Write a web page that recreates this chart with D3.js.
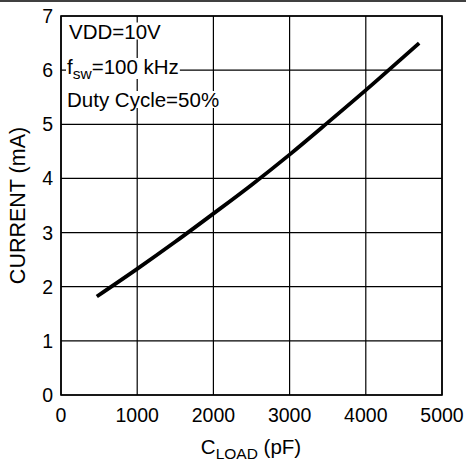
<!DOCTYPE html>
<html><head><meta charset="utf-8">
<script src="https://cdn.jsdelivr.net/npm/d3@7"></script>
<style>body{margin:0;background:#fff;} svg{display:block;font-family:"Liberation Sans",Arial,sans-serif;}</style>
</head><body>
<script>
const cload = [470, 1000, 1500, 2000, 2500, 3000, 3500, 4000, 4500, 4700];
const current = [1.82, 2.33, 2.83, 3.35, 3.88, 4.44, 5.03, 5.63, 6.25, 6.50];
const xTicks = [0, 1000, 2000, 3000, 4000, 5000];
const yTicks = [0, 1, 2, 3, 4, 5, 6, 7];

const W = 466, H = 466;
const svg = d3.select("body").append("svg").attr("width", W).attr("height", H);
const x = d3.scaleLinear().domain([0, 5000]).range([61, 442]);
const y = d3.scaleLinear().domain([0, 7]).range([395, 16]);

svg.append("line").attr("x1", 0).attr("x2", W).attr("y1", 1).attr("y2", 1)
  .attr("stroke", "#000").attr("stroke-width", 1.5);

const g = svg.append("g");
g.selectAll(".vg").data(xTicks).join("line")
  .attr("x1", d => x(d)).attr("x2", d => x(d)).attr("y1", y(0)).attr("y2", y(7))
  .attr("stroke", "#000").attr("stroke-width", 1.2);
g.selectAll(".hg").data(yTicks).join("line")
  .attr("x1", x(0)).attr("x2", x(5000)).attr("y1", d => y(d)).attr("y2", d => y(d))
  .attr("stroke", "#000").attr("stroke-width", 1.2);
g.append("rect").attr("x", x(0)).attr("y", y(7)).attr("width", x(5000) - x(0)).attr("height", y(0) - y(7))
  .attr("fill", "none").attr("stroke", "#000").attr("stroke-width", 1.6);

// tick labels
svg.selectAll(".xt").data(xTicks).join("text")
  .attr("x", d => x(d)).attr("y", y(0) + 27).attr("text-anchor", "middle")
  .attr("font-size", 19.5).text(d => d);
svg.selectAll(".yt").data(yTicks).join("text")
  .attr("x", x(0) - 8).attr("y", d => y(d) + 7).attr("text-anchor", "end")
  .attr("font-size", 19.5).text(d => d);

// annotations with white backgrounds
const ann = svg.append("g");
function addText(tx, ty, build) {
  const t = ann.append("text").attr("x", tx).attr("y", ty).attr("font-size", 20.5);
  build(t);
  const b = t.node().getBBox();
  ann.insert("rect", "text").attr("x", b.x - 1).attr("y", b.y + 3).attr("width", b.width + 2).attr("height", b.height - 6).attr("fill", "#fff");
}
addText(69, 38.5, t => t.text("VDD=10V"));
addText(67, 74, t => {
  t.append("tspan").text("f");
  t.append("tspan").attr("font-size", 15.5).attr("dy", 5).text("sw");
  t.append("tspan").attr("dy", -5).text("=100 kHz");
});
addText(67, 107, t => t.text("Duty Cycle=50%"));

// curve
const line = d3.line().x((d, i) => x(cload[i])).y(d => y(d)).curve(d3.curveMonotoneX);
svg.append("path").datum(current).attr("d", line)
  .attr("fill", "none").attr("stroke", "#000").attr("stroke-width", 3.8).attr("stroke-linecap", "butt");

// axis titles
const xt = svg.append("text").attr("x", 251).attr("y", 454).attr("text-anchor", "middle").attr("font-size", 20.5);
xt.append("tspan").text("C");
xt.append("tspan").attr("font-size", 15.5).attr("dy", 5).text("LOAD");
xt.append("tspan").attr("dy", -5).text(" (pF)");
svg.append("text").attr("transform", "translate(25," + y(3.5) + ") rotate(-90)")
  .attr("text-anchor", "middle").attr("font-size", 21.5).text("CURRENT (mA)");
</script>
</body></html>
